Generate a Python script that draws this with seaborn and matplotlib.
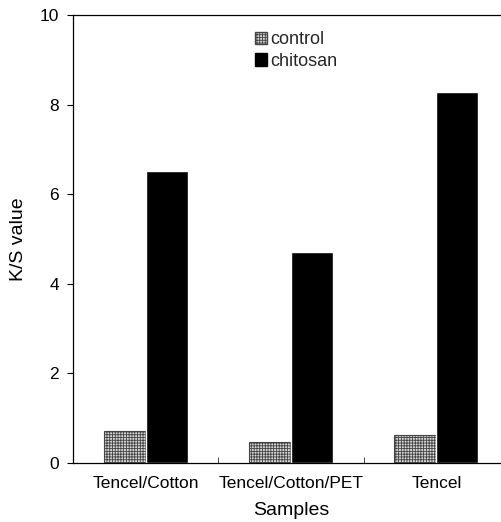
import matplotlib
matplotlib.use("Agg")
import matplotlib.pyplot as plt
from matplotlib.patches import Patch
import seaborn as sns
import pandas as pd

samples = ["Tencel/Cotton", "Tencel/Cotton/PET", "Tencel"]
control = [0.71, 0.47, 0.63]
chitosan = [6.52, 4.72, 8.28]
groups = ["control", "chitosan"]

df = pd.DataFrame({
    "Samples": samples * 2,
    "value": control + chitosan,
    "group": ["control"] * 3 + ["chitosan"] * 3,
})

sns.set_style("white")
plt.rcParams["font.family"] = ["Liberation Sans", "DejaVu Sans"]
plt.rcParams["hatch.color"] = "#666666"
plt.rcParams["hatch.linewidth"] = 0.6

fig = plt.figure(figsize=(5.02, 5.22), dpi=100)
ax = fig.add_axes([73 / 502, 59 / 522, 436 / 502, 448 / 522])

sns.barplot(data=df, x="Samples", y="value", hue="group", hue_order=groups,
            palette={"control": "#d4d4d4", "chitosan": "black"},
            width=0.58, gap=0, saturation=1, legend=False, ax=ax)

for bar in ax.patches[:3]:
    bar.set_hatch("++++++")
    bar.set_edgecolor("#444444")
    bar.set_linewidth(0.8)

ax.set_ylim(0, 10)
ax.set_xlim(-0.5, 2.5)
ax.set_yticks([0, 2, 4, 6, 8, 10])
ax.tick_params(axis="y", direction="out", length=4, width=0.8, labelsize=12.5,
               left=True, colors="black", pad=6)
ax.tick_params(axis="x", length=0, labelsize=12.5, pad=9, colors="black")
ax.set_xticks([0.5, 1.5], minor=True)
ax.tick_params(axis="x", which="minor", direction="in", length=4, bottom=True)
for s in ax.spines.values():
    s.set_color("black")
    s.set_linewidth(0.9)

ax.set_xlabel("Samples", fontsize=14, labelpad=8, color="black")
ax.set_ylabel("K/S value", fontsize=14, labelpad=9, color="black")

handles = [Patch(facecolor="#d4d4d4", edgecolor="#444444", hatch="++++++", label="control"),
           Patch(facecolor="black", edgecolor="black", label="chitosan")]
ax.legend(handles=handles, loc="upper left", bbox_to_anchor=(0.4, 0.98), frameon=False,
          fontsize=13, handlelength=0.7, handleheight=0.7, handletextpad=0.15,
          labelspacing=0.25, borderaxespad=0)

fig.savefig("out.png", dpi=100)
